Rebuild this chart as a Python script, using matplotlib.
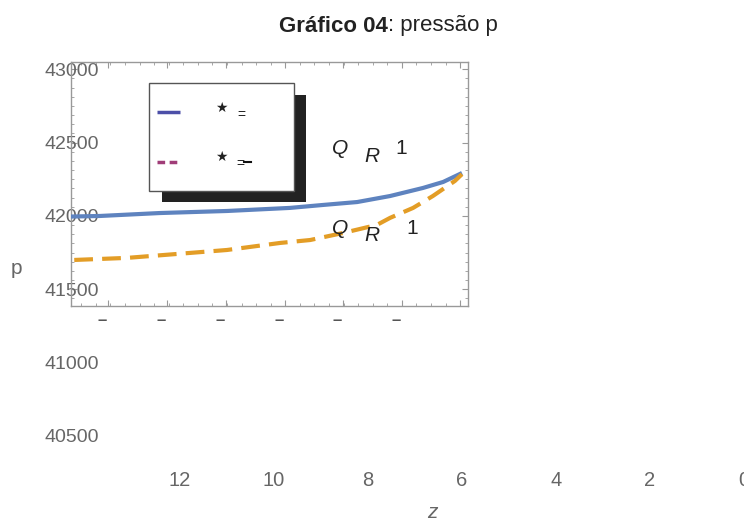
import matplotlib
matplotlib.use("Agg")
import matplotlib.pyplot as plt
from matplotlib.patches import Rectangle
from matplotlib.lines import Line2D
from matplotlib.ticker import AutoMinorLocator
from matplotlib.transforms import ScaledTranslation

W, H = 744, 520

# valores (z, p)
z_azul = [14.32, 13.70, 12.43, 11.00, 9.66, 8.96, 8.23, 7.53, 6.83, 6.40, 6.00]
p_azul = [41996, 42000, 42020, 42034, 42055, 42075, 42095, 42136, 42191, 42232, 42293]
z_laranja = [14.25, 13.13, 12.06, 11.00, 9.87, 9.23, 8.53, 7.81, 7.53, 7.04, 6.62, 6.15, 6.00]
p_laranja = [41700, 41714, 41741, 41768, 41816, 41836, 41884, 41939, 41987, 42055, 42136, 42239, 42285]

yticks_caixa = [41500, 42000, 42500, 43000]
yticks_baixo = [41000, 40500]
xticks = [12, 10, 8, 6, 4, 2, 0]
xticks_caixa = [13.53, 12.28, 11.02, 9.77, 8.53, 7.28, 6.04]
xlabels_caixa = ["–", "–", "–", "–", "–", "–", ""]

cinza = "#666666"
azul = "#5e83bf"
laranja = "#e39d26"


def fx(x):
    return x / W


def fy(y):
    return 1 - y / H


fig = plt.figure(figsize=(W / 100, H / 100), dpi=100)
regular = ["Liberation Sans", "DejaVu Sans"]

# eixo de fora (so os rotulos)
ax = fig.add_axes([fx(71), fy(460), fx(744) - fx(71), fy(62) - fy(460)])
ax.set_facecolor("none")
ax.set_xlim(14.319, 0)
ax.set_ylim(40336, 43050)
for s in ax.spines.values():
    s.set_visible(False)
ax.set_yticks(yticks_baixo, [str(v) for v in yticks_baixo])
ax.set_xticks(xticks, [str(v) for v in xticks])
ax.tick_params(axis="y", length=0, pad=-20.5, labelcolor=cinza, labelsize=14)
ax.tick_params(axis="x", length=0, pad=8, labelcolor=cinza, labelsize=14.5)
for lbl in ax.get_xticklabels() + ax.get_yticklabels():
    lbl.set_family(regular)

# caixa com as curvas
axb = fig.add_axes([fx(71), fy(306), (468 - 71) / W, (306 - 62) / H])
axb.set_facecolor("none")
axb.set_xlim(14.319, 5.872)
axb.set_ylim(41386, 43050)
for s in axb.spines.values():
    s.set_color("#999999")
    s.set_linewidth(1)
axb.set_yticks(yticks_caixa, [str(v) for v in yticks_caixa])
axb.set_xticks(xticks_caixa, xlabels_caixa)
axb.xaxis.set_minor_locator(AutoMinorLocator(4))
axb.yaxis.set_minor_locator(AutoMinorLocator(8))
axb.tick_params(which="both", direction="in", top=True, right=True, color="#999999")
axb.tick_params(which="major", length=4)
axb.tick_params(which="minor", length=2.5)
axb.tick_params(axis="y", pad=-20.5, labelcolor=cinza, labelsize=14)
axb.tick_params(axis="x", pad=5, labelcolor="#555555", labelsize=12)
for lbl in axb.get_yticklabels():
    lbl.set_family(regular)
for lbl in axb.get_xticklabels():
    lbl.set_family(regular)
    lbl.set_fontweight("bold")
    lbl.set_transform(lbl.get_transform() + ScaledTranslation(-0.06, 0, fig.dpi_scale_trans))

axb.plot(z_azul, p_azul, color=azul, lw=3, solid_capstyle="butt", zorder=3)
axb.plot(z_laranja, p_laranja, color=laranja, lw=3, dashes=(4.5, 2.2), zorder=3)

# textos Q R 1
for (x, y, t, st) in [(340, 149, "Q", "italic"), (372, 157, "R", "italic"), (401, 149, "1", "normal"),
                      (340, 228, "Q", "italic"), (372, 236, "R", "italic"), (412, 228, "1", "normal")]:
    fig.text(fx(x), fy(y), t, style=st, fontsize=15, color="#222222", family=regular,
             ha="center", va="center", zorder=6)

# legenda
fig.add_artist(Rectangle((fx(162), fy(202)), (306 - 162) / W, (202 - 95) / H,
                         transform=fig.transFigure, facecolor="#222222", edgecolor="none", zorder=7))
fig.add_artist(Rectangle((fx(149), fy(191)), (294 - 149) / W, (191 - 83) / H,
                         transform=fig.transFigure, facecolor="white", edgecolor="#555555",
                         lw=1, zorder=8))
fig.add_artist(Line2D([fx(157), fx(180)], [fy(112), fy(112)], transform=fig.transFigure,
                      color="#4c4fa8", lw=2.5, solid_capstyle="butt", zorder=9))
fig.add_artist(Line2D([fx(157), fx(181)], [fy(162), fy(162)], transform=fig.transFigure,
                      color="#a03d78", lw=2.5, dashes=(2.2, 1.3), zorder=9))
for (x, y) in [(221, 108), (221, 157)]:
    fig.text(fx(x), fy(y), "★", fontsize=10, color="#222222", family=["DejaVu Sans"],
             ha="center", va="center", zorder=9)
fig.text(fx(241), fy(115), "=", fontsize=10, color="#222222", family=regular,
         ha="center", va="center", zorder=9)
fig.text(fx(240), fy(164), "=", fontsize=10, color="#222222", family=regular,
         ha="center", va="center", zorder=9)
fig.add_artist(Line2D([fx(244), fx(251)], [fy(162), fy(162)], transform=fig.transFigure,
                      color="#111111", lw=1.5, zorder=9))

# titulo e rotulos dos eixos
fig.text(fx(388), fy(26), "Gráfico 04", fontsize=16, fontweight="bold", color="#222222",
         family=regular, ha="right", va="center")
fig.text(fx(388), fy(26), ": pressão p", fontsize=16, color="#222222",
         family=regular, ha="left", va="center")
fig.text(fx(16), fy(268), "p", fontsize=15, color=cinza, family=regular, ha="center", va="center")
fig.text(fx(432), fy(512), "z", fontsize=15, color=cinza, family=regular, style="italic",
         ha="center", va="center")

fig.savefig("out.png", dpi=100, facecolor="white")
